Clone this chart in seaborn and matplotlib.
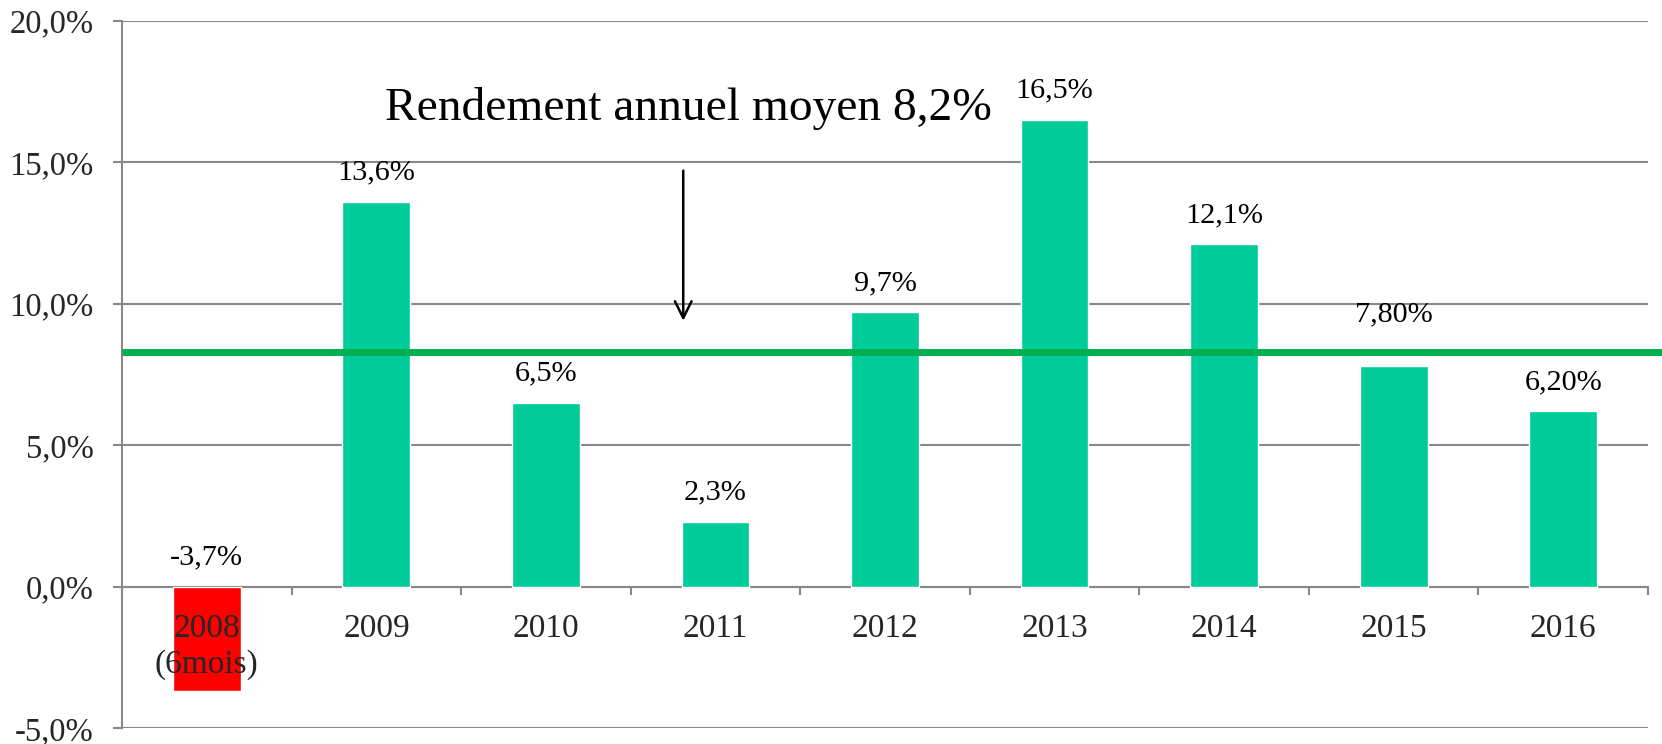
import matplotlib
matplotlib.use("Agg")
import matplotlib.pyplot as plt
import seaborn as sns
import pandas as pd
from matplotlib.ticker import FuncFormatter, FixedLocator

categories = ["2008\n(6mois)", "2009", "2010", "2011", "2012", "2013", "2014", "2015", "2016"]
values = [-3.7, 13.6, 6.5, 2.3, 9.7, 16.5, 12.1, 7.8, 6.2]
value_labels = ["-3,7%", "13,6%", "6,5%", "2,3%", "9,7%", "16,5%", "12,1%", "7,80%", "6,20%"]
mean_line = 8.3
title_text = "Rendement annuel moyen 8,2%"

sns.set_style("white")
plt.rcParams["font.family"] = ["Liberation Serif", "DejaVu Serif"]

GREEN = "#00CC99"
RED = "#FF0000"
colors = [RED if v < 0 else GREEN for v in values]
GRID = "#888888"

df = pd.DataFrame({"cat": categories, "val": values})

fig = plt.figure(figsize=(16.62, 7.44), dpi=100)
ax = fig.add_axes([122 / 1662, 1 - 728.2 / 744, (1648 - 122) / 1662, (728.2 - 20.7) / 744])

sns.barplot(data=df, x="cat", y="val", hue="cat", palette=colors, legend=False,
            width=0.4, ax=ax, saturation=1, zorder=3)

ax.set_ylim(-5, 20)
ax.set_xlim(-0.5, len(categories) - 0.5)
ax.set_xlabel("")
ax.set_ylabel("")

# gridlines
ax.yaxis.set_major_locator(FixedLocator([-5, 0, 5, 10, 15, 20]))
ax.yaxis.set_major_formatter(FuncFormatter(lambda v, p: f"{v:.1f}%".replace(".", ",")))
ax.grid(axis="y", color=GRID, linewidth=1.5, zorder=0)
ax.grid(axis="x", visible=False)
ax.set_axisbelow(True)
ax.xaxis.set_zorder(5)

for s in ["top", "right"]:
    ax.spines[s].set_visible(False)
ax.spines["left"].set_color(GRID)
ax.spines["left"].set_linewidth(1.5)
ax.spines["bottom"].set_position(("data", 0))
ax.spines["bottom"].set_color(GRID)
ax.spines["bottom"].set_linewidth(1.5)

ax.tick_params(axis="y", direction="out", length=6.5, width=1.5, color=GRID,
               labelsize=23.5, pad=14, left=True)
ax.tick_params(axis="x", which="major", length=0, labelsize=24, pad=19)
ax.set_xticks(range(len(categories)))
ax.set_xticklabels(categories)
for t in ax.get_xticklabels():
    t.set_linespacing(1.25)
ax.set_xticks([i - 0.5 for i in range(len(categories) + 1)], minor=True)
ax.tick_params(axis="x", which="minor", direction="out", length=6, width=1.5,
               color=GRID, bottom=True)

# value labels
for i, (v, lab) in enumerate(zip(values, value_labels)):
    off = 37 if i == 7 else 21
    ax.annotate(lab, xy=(i, max(v, 0)), xytext=(0, off), textcoords="offset points",
                ha="center", va="center", fontsize=21.8, color="black")

# mean line
ax.plot([0, 1.01], [mean_line, mean_line], transform=ax.get_yaxis_transform(),
        color="#00B050", linewidth=5, clip_on=False, zorder=4, solid_capstyle="butt")

# annotation
ax.text(2.84, 16.9, title_text, ha="center", va="center", fontsize=34.2, color="black")
ax.annotate("", xy=(2.81, 9.3), xytext=(2.81, 14.8),
            arrowprops=dict(arrowstyle="->", color="black", lw=1.8, mutation_scale=30))

fig.savefig("out.png", dpi=100)
